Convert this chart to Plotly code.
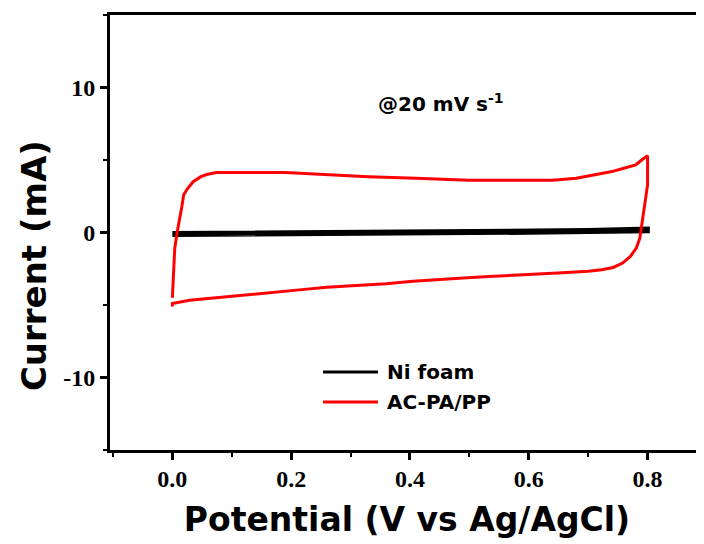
import plotly.graph_objects as go

# AC-PA/PP cyclic voltammogram (anodic then cathodic sweep)
acpa_v = [0.0, 0.002, 0.004, 0.008, 0.013, 0.016, 0.019, 0.026, 0.035, 0.048, 0.058, 0.074,
          0.19, 0.25, 0.33, 0.41, 0.5, 0.64, 0.68, 0.70, 0.72, 0.74, 0.76, 0.78, 0.79, 0.8,
          0.8, 0.794, 0.79, 0.787, 0.781, 0.771, 0.758, 0.742, 0.723, 0.70, 0.649, 0.582,
          0.533, 0.49, 0.443, 0.405, 0.36, 0.302, 0.26, 0.218, 0.177, 0.138, 0.109, 0.077,
          0.029, 0.0, 0.0]
acpa_i = [-4.5, -3.1, -1.1, 0.0, 1.0, 1.8, 2.6, 3.05, 3.5, 3.85, 4.0, 4.13,
          4.13, 4.0, 3.85, 3.74, 3.6, 3.6, 3.74, 3.9, 4.04, 4.2, 4.43, 4.66, 5.0, 5.3,
          3.28, 1.45, 0.3, -0.39, -1.08, -1.65, -2.11, -2.41, -2.57, -2.68, -2.8, -2.91,
          -3.03, -3.14, -3.26, -3.37, -3.53, -3.67, -3.78, -3.94, -4.1, -4.24, -4.4, -4.52,
          -4.68, -4.9, -5.1]

# Ni foam cyclic voltammogram
ni_v = [0.0, 0.25, 0.5, 0.7, 0.8, 0.8, 0.6, 0.3, 0.0]
ni_i = [-0.05, 0.0, 0.1, 0.15, 0.25, 0.1, 0.0, -0.1, -0.15]

series_names = ["Ni foam", "AC-PA/PP"]
series_colors = ["black", "#ff0000"]

x_ticks = [0.0, 0.2, 0.4, 0.6, 0.8]
y_ticks = [-10, 0, 10]

fig = go.Figure()
fig.add_trace(go.Scatter(x=ni_v, y=ni_i, mode="lines", name=series_names[0],
                         line=dict(color=series_colors[0], width=4.5)))
fig.add_trace(go.Scatter(x=acpa_v, y=acpa_i, mode="lines", name=series_names[1],
                         line=dict(color=series_colors[1], width=3)))

tick_font = dict(family="Liberation Serif", size=24, color="black", weight="bold")
sans = "DejaVu Sans"

fig.update_layout(
    width=696, height=536,
    margin=dict(l=102, r=0, t=7, b=94),
    plot_bgcolor="white", paper_bgcolor="white",
    showlegend=False,
    xaxis=dict(range=[-0.105, 0.895], tickvals=x_ticks,
               ticktext=["%.1f" % v for v in x_ticks],
               showline=True, linecolor="black", linewidth=3, mirror=True,
               ticks="outside", ticklen=7, tickwidth=2.5, tickcolor="black",
               minor=dict(ticks="outside", ticklen=4, tickwidth=2, dtick=0.1, tickcolor="black"),
               showgrid=False, zeroline=False, tickfont=tick_font, automargin=False,
               ticklabelstandoff=-2,
               title=dict(text="Potential (V vs Ag/AgCl)",
                          font=dict(family=sans, size=33, color="black", weight="bold"),
                          standoff=18)),
    yaxis=dict(range=[-15, 15], tickvals=y_ticks,
               ticktext=["%d" % v for v in y_ticks],
               showline=True, linecolor="black", linewidth=3, mirror=False,
               ticks="outside", ticklen=7, tickwidth=2.5, tickcolor="black",
               minor=dict(ticks="outside", ticklen=4, tickwidth=2, dtick=5, tickcolor="black"),
               showgrid=False, zeroline=False, tickfont=tick_font, automargin=False),
)

# y-axis title placed as in the reference (slightly below the plot centre)
fig.add_annotation(x=-0.128, y=0.425, xref="paper", yref="paper", textangle=-90,
                   xanchor="center", yanchor="middle",
                   text="Current (mA)", showarrow=False,
                   font=dict(family=sans, size=34, color="black", weight="bold"))

# scan-rate label
fig.add_annotation(x=0.557, y=0.798, xref="paper", yref="paper",
                   xanchor="center", yanchor="middle",
                   text="@20 mV s<sup>-1</sup>", showarrow=False,
                   font=dict(family=sans, size=20, color="black", weight="bold"))

# legend (line samples + labels)
leg_y = [0.1793, 0.1103]
for name, color, yy in zip(series_names, series_colors, leg_y):
    fig.add_shape(type="line", xref="paper", yref="paper", x0=0.3586, x1=0.4512,
                  y0=yy, y1=yy, line=dict(color=color, width=3))
    fig.add_annotation(x=0.463, y=yy, xref="paper", yref="paper",
                       xanchor="left", yanchor="middle",
                       text=name, showarrow=False,
                       font=dict(family=sans, size=20, color="black", weight="bold"))

fig.write_html("out.html")
